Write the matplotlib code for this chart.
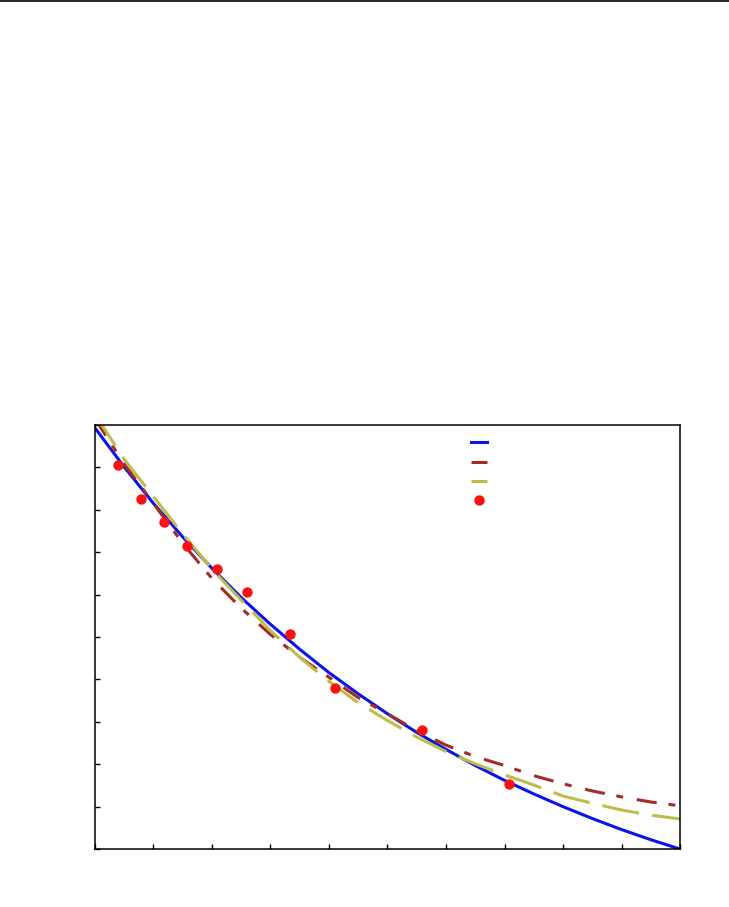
import matplotlib
matplotlib.use("Agg")
import matplotlib.pyplot as plt
from matplotlib.lines import Line2D

plt.rcParams['lines.scale_dashes'] = False

# sample positions along x for the three fitted curves
x_fit = [0, 0.5, 1, 1.5, 2, 2.5, 3, 3.5, 4, 4.5, 5, 5.5, 6, 6.5, 7, 7.5, 8, 8.5, 9, 9.5, 10]
# solid blue curve
blue_y = [9.93, 9.01, 8.15, 7.36, 6.62, 5.93, 5.30, 4.71, 4.16, 3.66, 3.19, 2.75,
          2.35, 1.97, 1.62, 1.30, 1.00, 0.72, 0.46, 0.22, 0.00]
# dash-dot dark red curve
red_y = [10.15, 9.08, 8.15, 7.21, 6.38, 5.68, 5.06, 4.52, 4.05, 3.57, 3.19, 2.79,
         2.45, 2.18, 1.97, 1.73, 1.54, 1.37, 1.23, 1.11, 1.02]
# long dash olive curve
olive_y = [10.25, 9.19, 8.31, 7.43, 6.60, 5.87, 5.15, 4.52, 3.95, 3.45, 3.03, 2.64,
           2.30, 2.01, 1.75, 1.51, 1.25, 1.08, 0.92, 0.80, 0.71]

# measured points
pts_x = [0.39, 0.79, 1.18, 1.57, 2.09, 2.60, 3.33, 4.10, 5.59, 7.08]
pts_y = [9.06, 8.25, 7.71, 7.15, 6.60, 6.06, 5.07, 3.80, 2.81, 1.53]

fig = plt.figure(figsize=(7.29, 9.07), dpi=100)
ax = fig.add_axes([0.1303, 0.0639, 0.8025, 0.4675])

l1, = ax.plot(x_fit, blue_y, color='#0a14e6', lw=2.2)
l2, = ax.plot(x_fit, red_y, color='#a52a2a', lw=2.2, dashes=(14.5, 8.5, 5, 10))
l3, = ax.plot(x_fit, olive_y, color='#bdbd4a', lw=2.2, dashes=(27, 9.5))
l4, = ax.plot(pts_x, pts_y, 'o', color='#ff1010', ms=7.5, mec='none')

ax.set_xlim(0, 10)
ax.set_ylim(0, 10)
ax.set_xticks(range(0, 11))
ax.set_yticks(range(0, 11))
ax.tick_params(direction='in', length=3.6, width=1, labelleft=False, labelbottom=False)
for s in ax.spines.values():
    s.set_linewidth(1.1)

ax.legend([l1, l2, l3, l4], [' ', ' ', ' ', ' '], loc='upper left',
          bbox_to_anchor=(0.622, 1.003), frameon=False, handlelength=1.15,
          labelspacing=0.38, fontsize=10)

fig.add_artist(Line2D([0, 1], [0.999, 0.999], color='black', lw=1.2))

plt.savefig('out.png', dpi=100)
